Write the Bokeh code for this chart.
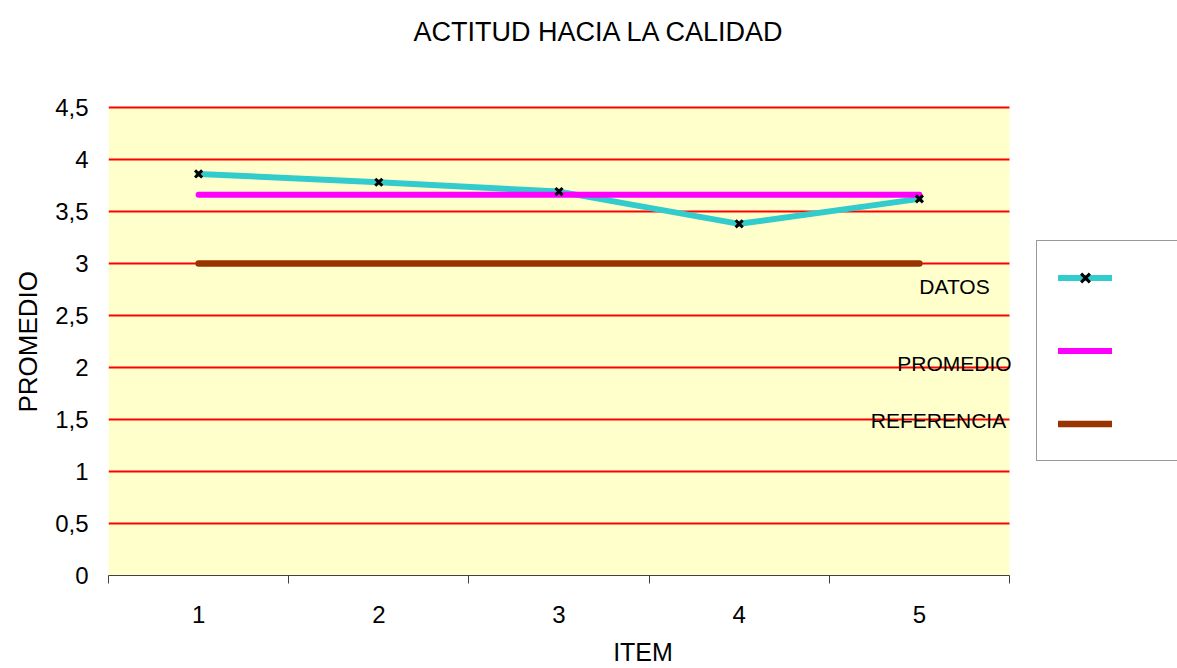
from bokeh.plotting import figure
from bokeh.models import (Range1d, FixedTicker, Label, Legend, LegendItem,
                          BoxAnnotation, Title)
from bokeh.core.properties import value
from bokeh.embed import file_html
from bokeh.resources import INLINE

# ---------------- data ----------------
title_text = "ACTITUD HACIA LA CALIDAD"
items = [1, 2, 3, 4, 5]
item_labels = ["1", "2", "3", "4", "5"]
datos = [3.86, 3.78, 3.69, 3.38, 3.62]
promedio = [3.66, 3.66, 3.66, 3.66, 3.66]
referencia = [3.0, 3.0, 3.0, 3.0, 3.0]
y_ticks = [0, 0.5, 1, 1.5, 2, 2.5, 3, 3.5, 4, 4.5]
y_tick_labels = ["0", "0,5", "1", "1,5", "2", "2,5", "3", "3,5", "4", "4,5"]
series_names = ["DATOS", "PROMEDIO", "REFERENCIA"]
x_title = "ITEM"
y_title = "PROMEDIO"

FONT = "Liberation Sans"
W, H = 1177, 668
PLOT_L, PLOT_R = 108, 1009          # plot-area pixel extent (left/right)
PLOT_T, PLOT_B = 107, 576           # plot-area pixel extent (top/bottom)
x_lo, x_hi = items[0] - 0.5, items[-1] + 0.5
y_lo, y_hi = y_ticks[0], y_ticks[-1]
# the frame runs on to the right and top edges so that the legend and the
# title can sit beside the plot area
x_end = x_lo + (x_hi - x_lo) * (W - PLOT_L) / (PLOT_R - PLOT_L)
y_end = y_lo + (y_hi - y_lo) * PLOT_B / (PLOT_B - PLOT_T)

p = figure(width=W, height=H, output_backend="svg", toolbar_location=None,
           x_range=Range1d(x_lo, x_end),
           y_range=Range1d(y_lo, y_end),
           min_border_left=PLOT_L, min_border_right=0,
           min_border_top=0, min_border_bottom=H - PLOT_B,
           background_fill_color="white", border_fill_color="white",
           outline_line_color=None)

# plot-area fill
p.add_layout(BoxAnnotation(left=x_lo, right=x_hi, bottom=y_lo, top=y_hi,
                           fill_color="#FFFFCC", fill_alpha=1, line_color=None,
                           level="image"))

# grid
p.xgrid.visible = False
p.ygrid.ticker = FixedTicker(ticks=y_ticks[1:])
p.ygrid.cross_bounds = (x_lo, x_hi)
p.ygrid.grid_line_color = "#FF0000"
p.ygrid.grid_line_width = 2

# series
l_datos = p.line(items, datos, line_color="#33CCCC", line_width=6,
                 line_cap="round", line_join="round")
l_prom = p.line(items, promedio, line_color="#FF00FF", line_width=6,
                line_cap="round")
l_ref = p.line(items, referencia, line_color="#993300", line_width=6.5,
               line_cap="round")
m_datos = p.scatter(items, datos, marker="x", size=10, line_color="black",
                    line_width=3)

# x axis
xa = p.xaxis[0]
xa.bounds = (x_lo, x_hi)
xa.ticker = FixedTicker(ticks=items,
                        minor_ticks=[i - 0.5 for i in items] + [x_hi])
xa.major_label_overrides = dict(zip(items, item_labels))
xa.major_tick_out = 0
xa.major_tick_in = 0
xa.minor_tick_out = 8
xa.minor_tick_in = 0
xa.minor_tick_line_color = "#404040"
xa.axis_line_color = "#404040"
xa.major_label_text_font = FONT
xa.major_label_text_font_size = "24px"
xa.major_label_text_color = "black"
xa.major_label_standoff = 22
xa.axis_label = x_title
xa.axis_label_text_font = FONT
xa.axis_label_text_font_size = "25px"
xa.axis_label_text_font_style = "normal"
xa.axis_label_text_color = "black"
xa.axis_label_standoff = 12

# y axis (its title is centred on the plot area, not on the whole frame)
ya = p.yaxis[0]
ya.bounds = (y_lo, y_hi)
ya.ticker = FixedTicker(ticks=y_ticks)
ya.major_label_overrides = dict(zip(y_ticks, y_tick_labels))
ya.axis_line_color = None
ya.major_tick_out = 0
ya.major_tick_in = 0
ya.major_tick_line_color = None
ya.minor_tick_line_color = None
ya.major_label_text_font = FONT
ya.major_label_text_font_size = "24px"
ya.major_label_text_color = "black"
ya.major_label_standoff = 20
p.add_layout(Title(text=y_title, align="left", offset=163, standoff=20,
                   text_font=FONT, text_font_size="26px",
                   text_font_style="normal", text_color="black"), "left")

# title
p.add_layout(Label(x=305, y=544, x_units="screen", y_units="screen",
                   text=title_text, text_font=FONT, text_font_size="27px",
                   text_color="black", text_align="left",
                   text_baseline="middle"))

# legend box (glyphs only); its labels are set apart, as in the original
legend = Legend(items=[LegendItem(label=value(""), renderers=[l_datos, m_datos]),
                       LegendItem(label=value(""), renderers=[l_prom]),
                       LegendItem(label=value(""), renderers=[l_ref])],
                location=(928, 114), padding=21, spacing=42, margin=0,
                glyph_width=54, glyph_height=31, label_height=31,
                label_width=80, label_standoff=0,
                border_line_color="#333333", border_line_width=1,
                background_fill_color="white", background_fill_alpha=1)
p.add_layout(legend)

label_pos = [(846, 289), (846, 212), (830, 155)]
for name, (sx, sy) in zip(series_names, label_pos):
    p.add_layout(Label(x=sx, y=sy, x_units="screen", y_units="screen",
                       text=name, text_font=FONT, text_font_size="21px",
                       text_color="black", text_align="center",
                       text_baseline="middle"))

open("out.html", "w").write(file_html(p, INLINE))
